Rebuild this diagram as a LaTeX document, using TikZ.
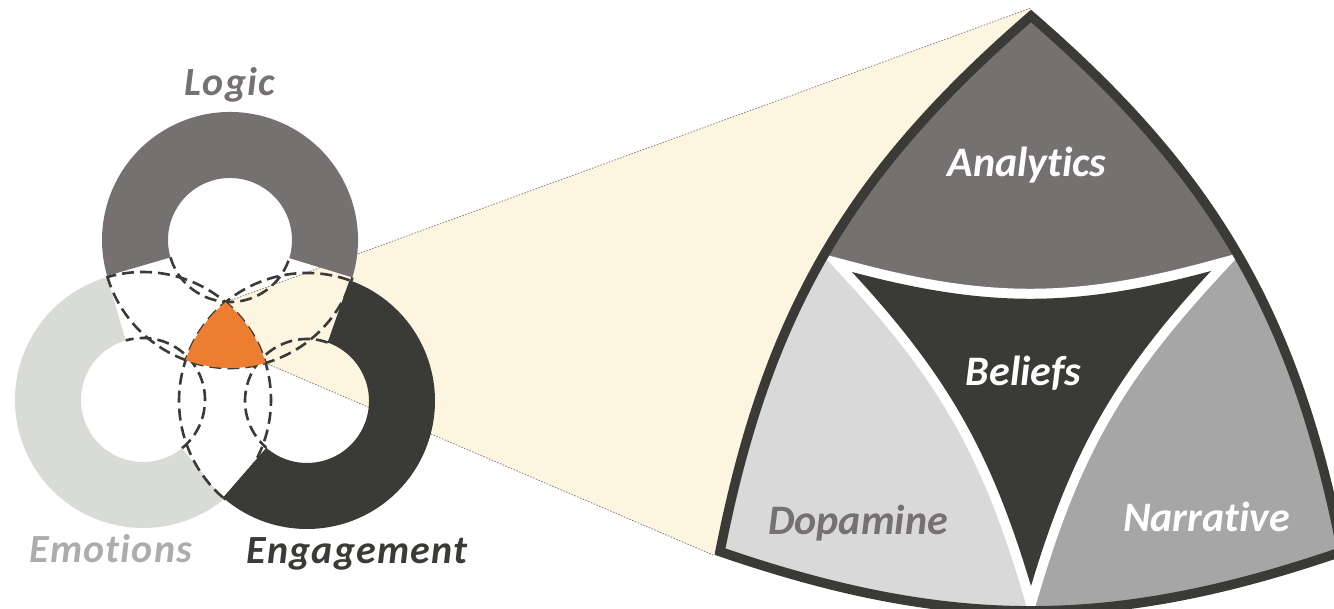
\documentclass[tikz,border=0pt]{standalone}
\usepackage{fontspec}
\setmainfont{Carlito}[Ligatures=CommonOff]
\newfontfamily\lblfont[LetterSpace=3,Ligatures=CommonOff]{Carlito}
\definecolor{cLogic}{HTML}{767171}
\definecolor{cEmo}{HTML}{D9DBD6}
\definecolor{cEng}{HTML}{3A3B36}
\definecolor{cOrange}{HTML}{ED7D31}
\definecolor{cBeige}{HTML}{FEF5E1}
\definecolor{cDopa}{HTML}{D9D9D9}
\definecolor{cNarr}{HTML}{A6A6A6}
\definecolor{cEmoTxt}{HTML}{AEABAB}
\definecolor{cDot}{HTML}{808080}
\newcommand{\myringfill}[4]{%
  \fill[#4, shift={#1}] (#2:128) arc[start angle=#2,end angle=#3,radius=128]
     -- (#3:62) arc[start angle=#3,end angle=#2,radius=62] -- cycle;}
\newcommand{\myringdash}[3]{%
  \draw[dashring, shift={#1}] (#2:128) arc[start angle=#2,end angle=#3,radius=128];
  \draw[dashring, shift={#1}] (#2:62) arc[start angle=#2,end angle=#3,radius=62];}
\begin{document}
\begin{tikzpicture}[x=1pt,y=1pt,
  dashring/.style={draw=cEng, line width=2.6pt, dash pattern=on 12pt off 6pt},
  projline/.style={draw=cDot, line width=0.8pt, dash pattern=on 1.5pt off 1.5pt},
  leftlbl/.style={font=\lblfont\bfseries\itshape\fontsize{40}{40}\selectfont, anchor=base, inner sep=0pt},
  rightlbl/.style={font=\bfseries\itshape\fontsize{42}{42}\selectfont, anchor=base, inner sep=0pt}]
\useasboundingbox (0,0) rectangle (1334,609);
% centres
\coordinate (L) at (230,369);
\coordinate (E) at (143,209);
\coordinate (G) at (307,208);
% orange vertices
\coordinate (OT) at (225.6,306.8);
\coordinate (OBR) at (265.5,246);
% big shape
\coordinate (T) at (1031,593);
\coordinate (BL) at (720,57.4);
\coordinate (BR) at (1342,57.4);
\coordinate (BTo) at (1031,601);
\coordinate (BLo) at (713,54);
\coordinate (b1) at (852,337);
\coordinate (b2) at (1211,338);
\coordinate (b3) at (1031,23);
\coordinate (AC) at (1031,978);
% projection
\fill[cBeige] (OT) -- (BTo) -- (BLo) -- (OBR) -- cycle;
\draw[projline] (OT) -- (BTo);
\draw[projline] (OBR) -- (BLo);
% rings
\myringfill{(L)}{-17}{196.3}{cLogic}
\myringfill{(E)}{106.2}{309}{cEmo}
\myringfill{(G)}{229}{430.6}{cEng}
\myringdash{(L)}{196.3}{343}
\myringdash{(E)}{309}{466.2}
\myringdash{(G)}{70.6}{229}
% orange triple intersection
\begin{scope}
  \clip (L) circle[radius=128];
  \clip (E) circle[radius=128];
  \fill[cOrange] (G) circle[radius=128];
\end{scope}
% labels left
\node[leftlbl, text=cLogic] (tLogic) at (230,513) {Logic};
\node[leftlbl, text=cEmoTxt] (tEmo) at (111,46) {Emotions};
\node[leftlbl, text=cEng] (tEng) at (357,45) {Engagement};
% big shape
\begin{scope}
  \clip (T) to[bend right=19] (BL) to[bend right=19] (BR) to[bend right=19] (T) -- cycle;
  \fill[cDopa] (700,0) rectangle (1031,609);
  \fill[cNarr] (1031,0) rectangle (1360,609);
  \fill[cLogic] (AC) circle[radius=660];
  \draw[white, line width=20pt, line join=miter] (b1) to[bend left=13] (b3) to[bend left=13] (b2) to[bend left=15] (b1) -- cycle;
  \fill[cEng] (b1) to[bend left=13] (b3) to[bend left=13] (b2) to[bend left=15] (b1) -- cycle;
\end{scope}
\draw[cEng, line width=9.5pt, line join=miter] (T) to[bend right=19] (BL) to[bend right=19] (BR) to[bend right=19] (T) -- cycle;
\node[rightlbl, text=white] (tAna) at (1027,432.3) {Analytics};
\node[rightlbl, text=white] (tBel) at (1023.5,223) {Beliefs};
\node[rightlbl, text=cLogic] (tDop) at (858,74.4) {Dopamine};
\node[rightlbl, text=white] (tNar) at (1206.5,77.3) {Narrative};
\end{tikzpicture}
\end{document}
